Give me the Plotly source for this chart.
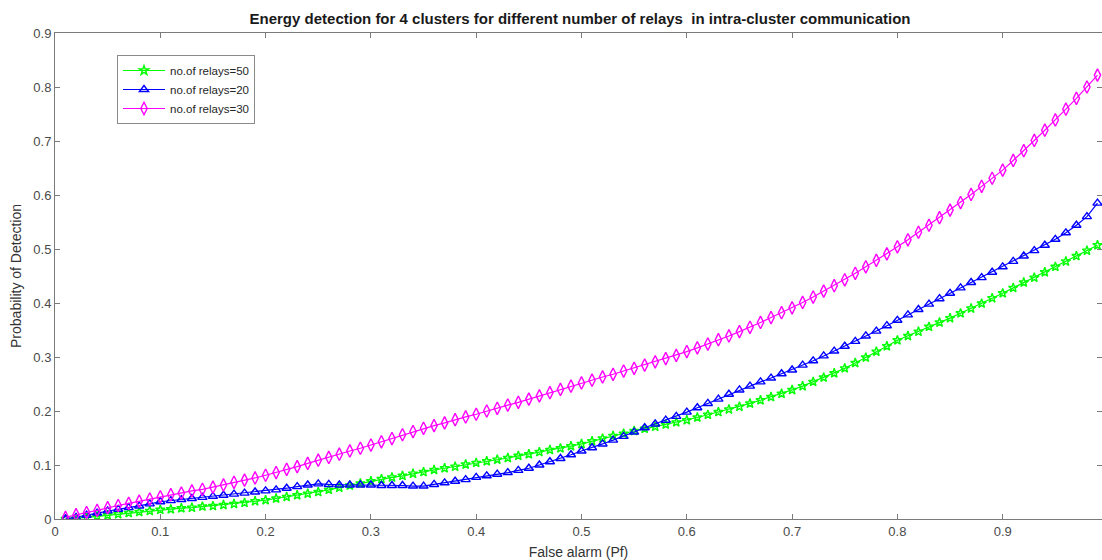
import plotly.graph_objects as go

# False-alarm probabilities (Pf) at which detection was evaluated
pf = [round(0.01 * k, 2) for k in range(1, 100)]

# Probability of detection, 50 relays
pd_relays50 = [
    0.000, 0.001, 0.003, 0.005, 0.007, 0.009, 0.011, 0.013, 0.015, 0.017,
    0.018, 0.020, 0.021, 0.023, 0.024, 0.026, 0.028, 0.030, 0.033, 0.035,
    0.038, 0.041, 0.044, 0.047, 0.050, 0.054, 0.058, 0.062, 0.066, 0.070,
    0.074, 0.077, 0.080, 0.084, 0.087, 0.091, 0.094, 0.097, 0.101, 0.104,
    0.107, 0.110, 0.113, 0.117, 0.120, 0.124, 0.128, 0.131, 0.135, 0.139,
    0.144, 0.149, 0.154, 0.158, 0.163, 0.167, 0.171, 0.175, 0.179, 0.183,
    0.188, 0.193, 0.198, 0.203, 0.208, 0.214, 0.220, 0.226, 0.232, 0.239,
    0.246, 0.254, 0.262, 0.270, 0.279, 0.289, 0.299, 0.310, 0.320, 0.331,
    0.339, 0.347, 0.356, 0.364, 0.372, 0.381, 0.390, 0.399, 0.409, 0.418,
    0.428, 0.438, 0.447, 0.457, 0.467, 0.477, 0.487, 0.497, 0.507,
]

# Probability of detection, 20 relays
pd_relays20 = [
    0.000, 0.003, 0.007, 0.011, 0.015, 0.018, 0.021, 0.024, 0.028, 0.032,
    0.034, 0.036, 0.038, 0.040, 0.042, 0.044, 0.046, 0.048, 0.050, 0.052,
    0.054, 0.057, 0.060, 0.063, 0.065, 0.064, 0.063, 0.063, 0.063, 0.063,
    0.062, 0.062, 0.062, 0.061, 0.061, 0.064, 0.067, 0.070, 0.073, 0.077,
    0.080, 0.083, 0.086, 0.090, 0.094, 0.100, 0.106, 0.112, 0.119, 0.126,
    0.132, 0.139, 0.146, 0.153, 0.161, 0.169, 0.176, 0.183, 0.190, 0.198,
    0.206, 0.214, 0.222, 0.231, 0.239, 0.246, 0.254, 0.261, 0.269, 0.276,
    0.285, 0.293, 0.302, 0.311, 0.320, 0.329, 0.339, 0.348, 0.358, 0.368,
    0.378, 0.388, 0.398, 0.408, 0.418, 0.428, 0.438, 0.447, 0.457, 0.467,
    0.477, 0.487, 0.497, 0.507, 0.518, 0.530, 0.544, 0.560, 0.585,
]

# Probability of detection, 30 relays
pd_relays30 = [
    0.003, 0.008, 0.012, 0.016, 0.021, 0.025, 0.029, 0.033, 0.037, 0.041,
    0.045, 0.048, 0.052, 0.055, 0.059, 0.063, 0.068, 0.072, 0.076, 0.081,
    0.086, 0.092, 0.097, 0.103, 0.109, 0.114, 0.120, 0.126, 0.131, 0.137,
    0.143, 0.149, 0.156, 0.162, 0.168, 0.173, 0.178, 0.184, 0.189, 0.194,
    0.200, 0.205, 0.211, 0.216, 0.222, 0.228, 0.234, 0.240, 0.246, 0.252,
    0.257, 0.263, 0.268, 0.274, 0.279, 0.285, 0.291, 0.297, 0.303, 0.310,
    0.317, 0.324, 0.332, 0.339, 0.347, 0.355, 0.364, 0.373, 0.382, 0.391,
    0.401, 0.411, 0.422, 0.432, 0.443, 0.455, 0.467, 0.479, 0.491, 0.504,
    0.517, 0.531, 0.544, 0.558, 0.572, 0.586, 0.601, 0.616, 0.631, 0.646,
    0.664, 0.682, 0.701, 0.720, 0.739, 0.759, 0.779, 0.800, 0.822,
]

x_ticks = [0, 0.1, 0.2, 0.3, 0.4, 0.5, 0.6, 0.7, 0.8, 0.9]
y_ticks = [0, 0.1, 0.2, 0.3, 0.4, 0.5, 0.6, 0.7, 0.8, 0.9]

series = [
    ("no.of relays=50", pd_relays50, "#00ff00", "star-open", 7),
    ("no.of relays=20", pd_relays20, "#0000ff", "triangle-up-open", 8),
    ("no.of relays=30", pd_relays30, "#ff00ff", "diamond-tall-open", 9),
]

fig = go.Figure()
for name, yvals, color, symbol, msize in series:
    fig.add_trace(go.Scatter(
        x=pf, y=yvals, name=name, mode="lines+markers",
        line=dict(color=color, width=1.2),
        marker=dict(symbol=symbol, size=msize, color=color,
                    line=dict(color=color, width=1.4)),
    ))

font_family = "Arial, Liberation Sans, sans-serif"
axis_color = "#7a7a7a"
tick_font = dict(family=font_family, size=13, color="#4a4a4a")
label_font = dict(family=font_family, size=14, color="#333333")

fig.update_layout(
    width=1102, height=560,
    margin=dict(l=55, r=0, t=33, b=41),
    paper_bgcolor="white", plot_bgcolor="white",
    title=dict(
        text="<b>Energy detection for 4 clusters for different number of relays \u00a0in intra-cluster communication</b>",
        x=580 / 1102, xanchor="center", y=1 - 19 / 560, yanchor="middle",
        font=dict(family=font_family, size=15, color="#1a1a1a"),
    ),
    showlegend=True,
    legend=dict(
        x=(117 - 55) / 1047, y=(519 - 55) / 486, xanchor="left", yanchor="top",
        bgcolor="white", bordercolor="#8a8a8a", borderwidth=1,
        font=dict(family=font_family, size=11.5, color="#262626"),
        tracegroupgap=0, itemwidth=42,
    ),
    xaxis=dict(
        range=[0, 0.9943], tickvals=x_ticks, ticks="inside", ticklen=5,
        tickcolor=axis_color, showline=True, linecolor=axis_color, linewidth=1,
        mirror="ticks", showgrid=False, zeroline=False, tickfont=tick_font,
        title=dict(text="False alarm (Pf)", standoff=10, font=label_font),
    ),
    yaxis=dict(
        range=[0, 0.9], tickvals=y_ticks, ticks="inside", ticklen=5,
        tickcolor=axis_color, showline=True, linecolor=axis_color, linewidth=1,
        mirror="ticks", showgrid=False, zeroline=False, tickfont=tick_font,
        title=dict(text="Probability of Detection", standoff=8, font=label_font),
    ),
)

fig.write_html("out.html")
